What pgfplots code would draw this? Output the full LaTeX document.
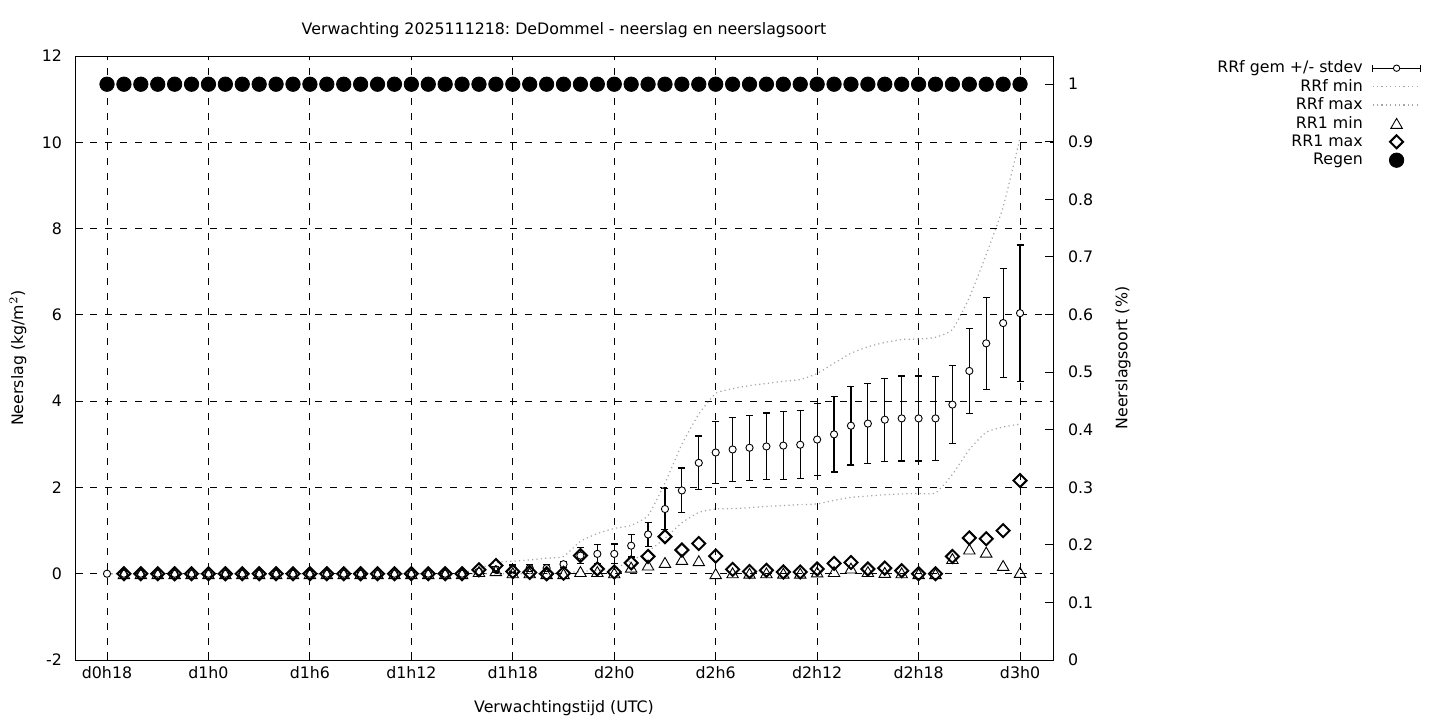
\documentclass[border=0pt]{standalone}
\usepackage{pgfplots}
\pgfplotsset{compat=1.18}
\usepackage{pgfplotstable}
\usepackage{fontspec}
\setmainfont{DejaVu Sans}
\frenchspacing
\definecolor{dotgray}{RGB}{165,165,165}
\newcommand{\fs}{\fontsize{7.9}{9.4}\selectfont\frenchspacing}

% hour, mean, stdev, min, max
\pgfplotstableread{
h m s mn mx
18 0 0 0 0
19 0 0 0 0
20 0 0 0 0
21 0 0 0 0
22 0 0 0 0
23 0 0 0 0
24 0 0 0 0
25 0 0 0 0
26 0 0 0 0
27 0 0 0 0
28 0 0 0 0
29 0 0 0 0
30 0 0 0 0
31 0 0 0 0
32 0 0 0 0
33 0 0 0 0
34 0 0 0 0
35 0 0 0 0
36 0 0 0 0
37 0 0 0 0
38 0 0 0 0
39 0 0 0 0.02
40 0.05 0.04 0 0.12
41 0.10 0.07 0 0.26
42 0.12 0.08 0 0.29
43 0.13 0.08 0 0.32
44 0.13 0.08 0 0.36
45 0.22 0.07 0.02 0.40
46 0.42 0.18 0.05 0.75
47 0.46 0.22 0.08 0.93
48 0.46 0.23 0.12 1.05
49 0.65 0.26 0.30 1.12
50 0.91 0.28 0.52 1.35
51 1.50 0.47 0.82 2.10
52 1.93 0.52 1.18 3.00
53 2.57 0.62 1.42 3.70
54 2.81 0.72 1.50 4.18
55 2.88 0.735 1.51 4.29
56 2.92 0.755 1.53 4.36
57 2.95 0.775 1.56 4.41
58 2.97 0.785 1.58 4.46
59 2.99 0.79 1.60 4.50
60 3.11 0.83 1.62 4.64
61 3.23 0.87 1.70 4.88
62 3.43 0.91 1.77 5.11
63 3.48 0.93 1.80 5.26
64 3.57 0.96 1.83 5.36
65 3.60 0.985 1.85 5.43
66 3.60 0.985 1.86 5.44
67 3.60 0.97 1.87 5.48
68 3.92 0.90 2.30 5.66
69 4.70 0.99 2.88 6.40
70 5.34 1.07 3.28 7.40
71 5.81 1.27 3.40 8.50
72 6.04 1.58 3.47 10.10
}\rrf

% hour, RR1 min, RR1 max
\pgfplotstableread{
h rmin rmax
19 0 0
20 0 0
21 0 0
22 0 0
23 0 0
24 0 0
25 0 0
26 0 0
27 0 0
28 0 0
29 0 0
30 0 0
31 0 0
32 0 0
33 0 0
34 0 0
35 0 0
36 0 0
37 0 0
38 0 0
39 0 0
40 0.05 0.09
41 0.07 0.19
42 0.02 0.05
43 0.02 0.03
44 0 0
45 0 0.01
46 0.05 0.42
47 0.05 0.11
48 0.02 0.04
49 0.15 0.25
50 0.20 0.40
51 0.26 0.86
52 0.33 0.55
53 0.30 0.70
54 0 0.41
55 0.02 0.10
56 0.01 0.05
57 0.02 0.08
58 0.01 0.04
59 0.01 0.04
60 0.04 0.11
61 0.05 0.24
62 0.13 0.26
63 0.05 0.11
64 0.03 0.13
65 0.02 0.07
66 0 0
67 0 0
68 0.35 0.40
69 0.57 0.83
70 0.50 0.81
71 0.19 1.00
72 0.03 2.16
}\rrone

\pgfplotstableread{
h r
18 1
19 1
20 1
21 1
22 1
23 1
24 1
25 1
26 1
27 1
28 1
29 1
30 1
31 1
32 1
33 1
34 1
35 1
36 1
37 1
38 1
39 1
40 1
41 1
42 1
43 1
44 1
45 1
46 1
47 1
48 1
49 1
50 1
51 1
52 1
53 1
54 1
55 1
56 1
57 1
58 1
59 1
60 1
61 1
62 1
63 1
64 1
65 1
66 1
67 1
68 1
69 1
70 1
71 1
72 1
}\regen

\begin{document}
\begin{tikzpicture}
\useasboundingbox (-37.5pt,-30pt) rectangle (682.5pt,330pt);
\begin{axis}[
  at={(0,0)}, anchor=south west,
  scale only axis, width=489pt, height=302pt,
  xmin=16.107, xmax=73.95, ymin=-2, ymax=12,
  xtick={18,24,...,72},
  xticklabels={d0h18,d1h0,d1h6,d1h12,d1h18,d2h0,d2h6,d2h12,d2h18,d3h0},
  ytick={-2,0,...,12},
  xtick pos=bottom, ytick pos=left,
  tick align=inside, major tick length=4pt,
  tick style={black, line width=0.5pt},
  axis line style={black, line width=0.5pt},
  grid=major,
  major grid style={black, line width=0.5pt, dash pattern=on 3.5pt off 4pt},
  /pgf/number format/assume math mode=true,
  tick label style={font=\fs},
  xticklabel style={anchor=center, yshift=-6.5pt},
  yticklabel style={xshift=-3pt},
  title={Verwachting 2025111218: DeDommel - neerslag en neerslagsoort},
  title style={font=\fs, at={(axis description cs:0.5,1.0464)}, anchor=center, yshift=-7pt},
  xlabel={Verwachtingstijd (UTC)},
  xlabel style={font=\fs, at={(axis description cs:0.5,-0.079)}, anchor=center},
  ylabel={Neerslag (kg/m$^2$)},
  ylabel style={font=\fs, at={(axis description cs:-0.0583,0.5)}, anchor=center},
  clip=false,
  legend style={font=\fs, draw=none, fill=none, at={(1.383,1.002)}, anchor=north east,
    row sep=0.2pt, column sep=4pt, nodes={inner sep=0.6pt, text height=6.2pt, text depth=1.6pt}},
  legend cell align=right, legend plot pos=right,
]
\addplot[only marks, mark=*, mark size=1.8pt,
  mark options={fill=white, draw=black, line width=0.45pt},
  legend image code/.code={
    \draw[black, line width=0.55pt] (0pt,0pt)--(24pt,0pt);
    \draw[black, line width=0.55pt] (0pt,-1.8pt)--(0pt,1.8pt) (24pt,-1.8pt)--(24pt,1.8pt);
    \draw[black, fill=white, line width=0.45pt] (12pt,0pt) circle (1.6pt);},
  error bars/.cd, y dir=both, y explicit,
  error bar style={black, line width=0.6pt},
  error mark options={black, line width=0.6pt, mark size=1.75pt, rotate=90}]
  table[x=h, y=m, y error=s] {\rrf};
\addlegendentry{RRf gem +/- stdev}
\addplot[dotgray, line width=0.6pt, dash pattern=on 0.6pt off 1.6pt, smooth, tension=0.3,
  legend image code/.code={\draw[dotgray, line width=0.6pt, dash pattern=on 0.6pt off 1.6pt] (0pt,0pt)--(24pt,0pt);}]
  table[x=h, y=mn] {\rrf};
\addlegendentry{RRf min}
\addplot[dotgray, line width=0.6pt, dash pattern=on 0.6pt off 1.6pt, smooth, tension=0.3,
  legend image code/.code={\draw[dotgray, line width=0.6pt, dash pattern=on 0.6pt off 1.6pt] (0pt,0pt)--(24pt,0pt);}]
  table[x=h, y=mx] {\rrf};
\addlegendentry{RRf max}
\addplot[only marks, mark=triangle, mark size=3.3pt,
  mark options={black, line width=0.45pt, yshift=-0.8pt},
  legend image code/.code={\draw[mark repeat=2, mark phase=2] plot coordinates {(0pt,0pt) (12pt,0pt) (24pt,0pt)};}]
  table[x=h, y=rmin] {\rrone};
\addlegendentry{RR1 min}
\addplot[only marks, mark=square, mark size=2.3pt,
  mark options={black, line width=1pt, rotate=45},
  legend image code/.code={\draw[mark repeat=2, mark phase=2] plot coordinates {(0pt,0pt) (12pt,0pt) (24pt,0pt)};}]
  table[x=h, y=rmax] {\rrone};
\addlegendentry{RR1 max}
\addlegendimage{only marks, mark=*, mark size=3.6pt, black,
  legend image code/.code={\draw[mark repeat=2, mark phase=2] plot coordinates {(0pt,0pt) (12pt,0pt) (24pt,0pt)};}}
\addlegendentry{Regen}
\end{axis}
\begin{axis}[
  at={(0,0)}, anchor=south west,
  scale only axis, width=489pt, height=302pt,
  xmin=16.107, xmax=73.95, ymin=0, ymax=1.049,
  axis y line*=right, axis x line=none,
  ytick={0,0.1,...,1.01},
  tick align=inside, major tick length=4pt,
  tick style={black, line width=0.5pt},
  axis line style={black, line width=0.5pt},
  /pgf/number format/assume math mode=true,
  /pgf/number format/fixed,
  yticklabel style={font=\fs, xshift=4pt},
  ylabel={Neerslagsoort (\%)},
  ylabel style={font=\fs, at={(axis description cs:1.0716,0.5)}, anchor=center, rotate=0},
  clip=false,
]
\addplot[only marks, mark=*, mark size=3.6pt, black] table[x=h, y=r] {\regen};
\end{axis}
\end{tikzpicture}
\end{document}
